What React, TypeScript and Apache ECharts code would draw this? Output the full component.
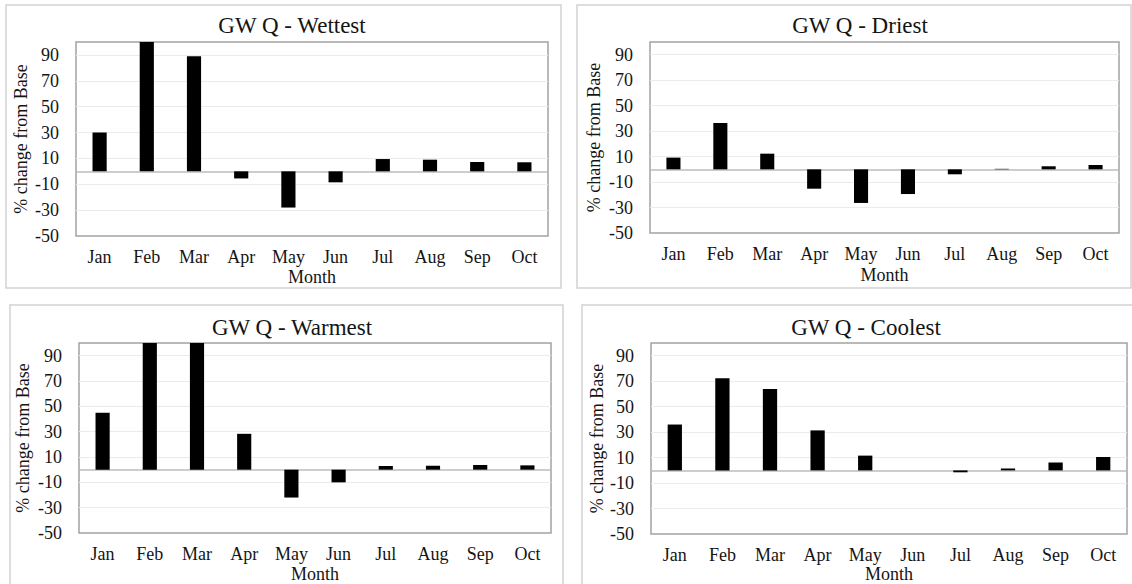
import React, { useEffect, useRef } from "react";
import * as echarts from "echarts";

const months = ["Jan", "Feb", "Mar", "Apr", "May", "Jun", "Jul", "Aug", "Sep", "Oct"];

const wettest = [30, 100, 89, -5.5, -28, -8.5, 9.5, 9, 7.2, 7];
const driest = [9.2, 36.4, 12.3, -15.2, -26.4, -19.4, -3.9, 0.4, 2.4, 3.4];
const warmest = [45, 100, 100, 28.3, -22, -10, 2.9, 3.1, 3.7, 3.4];
const coolest = [36, 72.3, 63.8, 31.4, 11.6, 0, -1.5, 1.5, 6.2, 10.5];

const titles = ["GW Q - Wettest", "GW Q - Driest", "GW Q - Warmest", "GW Q - Coolest"];
const yTickLabels = [-50, -30, -10, 10, 30, 50, 70, 90];
const gridLineValues = [-30, -10, 10, 30, 50, 70, 90];
const yMin = -50;
const yMax = 100;

const FONT = "'Liberation Serif', 'Times New Roman', serif";
const TEXT = "#141414";

export default function App() {
  const ref = useRef<HTMLDivElement>(null);

  useEffect(() => {
    if (!ref.current) return;
    const chart = echarts.init(ref.current, undefined, { renderer: "svg" });

    const panels = [
      { data: wettest, grid: { left: 76, top: 42, width: 472, height: 194 }, titleX: 287, titleY: 9, nameGap: 46, monthGap: 32, box: { x: 6, y: 5, w: 555, h: 283 } },
      { data: driest, grid: { left: 650, top: 42, width: 469, height: 191 }, titleX: 855, titleY: 9, nameGap: 47, monthGap: 33, box: { x: 577, y: 5, w: 554, h: 283 } },
      { data: warmest, grid: { left: 79, top: 343, width: 472, height: 191 }, titleX: 287, titleY: 311, nameGap: 47, monthGap: 32, box: { x: 10, y: 305, w: 553, h: 300 } },
      { data: coolest, grid: { left: 651, top: 343, width: 476, height: 193 }, titleX: 861, titleY: 311, nameGap: 44, monthGap: 30, box: { x: 582, y: 305, w: 560, h: 300 } },
    ];

    const option: any = {
      animation: false,
      backgroundColor: "#ffffff",
      graphic: panels.map((p) => ({
        type: "rect",
        silent: true,
        z: -10,
        shape: { x: p.box.x, y: p.box.y, width: p.box.w, height: p.box.h },
        style: { fill: "none", stroke: "#d2d2d2", lineWidth: 1.5 },
      })),
      title: panels.map((p, i) => ({
        text: titles[i],
        left: p.titleX,
        top: p.titleY,
        textAlign: "center",
        textStyle: { fontFamily: FONT, fontSize: 23, fontWeight: "normal", color: TEXT },
      })),
      grid: panels.map((p) => ({
        ...p.grid,
        show: true,
        borderColor: "#a3a3a3",
        borderWidth: 1.5,
        backgroundColor: "#ffffff",
        containLabel: false,
      })),
      xAxis: panels.map((p, i) => ({
        type: "category",
        gridIndex: i,
        data: months,
        name: "Month",
        nameLocation: "middle",
        nameGap: p.monthGap,
        nameTextStyle: { fontFamily: FONT, fontSize: 18, color: TEXT, verticalAlign: "top" },
        axisLine: { show: false, onZero: false },
        axisTick: { show: false },
        axisLabel: { fontFamily: FONT, fontSize: 18, color: TEXT, margin: 12, interval: 0 },
        splitLine: { show: false },
      })),
      yAxis: panels.map((p, i) => ({
        type: "value",
        gridIndex: i,
        min: yMin,
        max: yMax,
        interval: 10,
        name: "% change from Base",
        nameLocation: "middle",
        nameRotate: 90,
        nameGap: p.nameGap,
        nameTextStyle: { fontFamily: FONT, fontSize: 18, color: TEXT },
        axisLine: { show: false },
        axisTick: { show: false },
        splitLine: { show: false },
        axisLabel: {
          fontFamily: FONT,
          fontSize: 18,
          color: TEXT,
          margin: 17,
          formatter: (v: number) => (yTickLabels.includes(v) ? String(v) : ""),
        },
      })),
      series: panels.map((p, i) => ({
        type: "bar",
        xAxisIndex: i,
        yAxisIndex: i,
        data: p.data,
        barWidth: "30%",
        clip: true,
        itemStyle: { color: "#000000" },
        markLine: {
          silent: true,
          symbol: "none",
          label: { show: false },
          z: 1,
          data: [
            ...gridLineValues.map((v) => ({ yAxis: v, lineStyle: { color: "#ebebeb", width: 1, type: "solid" } })),
            { yAxis: 0, lineStyle: { color: "#bdbdbd", width: 1.5, type: "solid" } },
          ],
        },
      })),
    };

    chart.setOption(option);
    return () => chart.dispose();
  }, []);

  return (
    <div
      ref={ref}
      style={{ position: "fixed", left: 0, top: 0, width: 1132, height: 584, background: "#fff" }}
    />
  );
}
